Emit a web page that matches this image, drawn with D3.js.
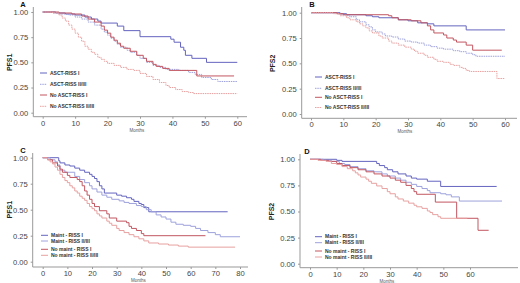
<!DOCTYPE html>
<html lang="en">
<head>
<meta charset="UTF-8">
<title>PFS by ASCT / maintenance and R-ISS</title>
<script src="https://cdn.jsdelivr.net/npm/d3@7/dist/d3.min.js"></script>
<style>
  body { margin: 0; background: #fff; }
  svg { display: block; font-family: "Liberation Sans", Arial, sans-serif; }
  .tick text { fill: #444; font-size: 7.6px; }
  .tick line { stroke: #999; }
</style>
</head>
<body>
<script>
// legend labels
const labelsAB = ['ASCT-RISS I', 'ASCT-RISS II/III', 'No ASCT-RISS I', 'No ASCT-RISS II/III'];
const labelsCD = ['Maint - RISS I', 'Maint - RISS II/III', 'No maint - RISS I', 'No maint - RISS II/III'];
const yTicks = [0, 0.25, 0.5, 0.75, 1];
const xTicks60 = [0, 10, 20, 30, 40, 50, 60];
const xTicks80 = [0, 10, 20, 30, 40, 50, 60, 70, 80];

// A: PFS1, ASCT vs no ASCT  [month, survival]
const aAsct1 = [[0,1],[4,0.99],[7,0.98],[10,0.97],[13,0.95],[15,0.93],[17,0.91],[18,0.89],[23,0.86],[25,0.815],[30,0.755],[39.5,0.73],[40.5,0.70],[42.5,0.65],[43.5,0.62],[44,0.57],[46,0.54],[50.5,0.50],[60,0.50]];
const aAsct23 = [[0,1],[3,0.99],[5,0.98],[8,0.97],[10,0.95],[12,0.93],[14,0.90],[16,0.87],[18,0.83],[19,0.80],[20,0.77],[21,0.74],[22,0.71],[23,0.68],[24,0.65],[26,0.62],[27,0.60],[29,0.57],[30,0.54],[32,0.50],[34,0.47],[36,0.45],[38,0.43],[42,0.42],[45,0.40],[47,0.38],[49,0.35],[52,0.33],[54,0.31],[60,0.31]];
const aNoAsct1 = [[0,1],[5,0.99],[9,0.98],[12,0.96],[14,0.93],[16,0.90],[18,0.86],[19,0.82],[20,0.79],[21,0.75],[22,0.72],[23,0.69],[24,0.66],[25,0.64],[27,0.61],[29,0.57],[31,0.54],[32,0.51],[34,0.48],[35,0.46],[37,0.44],[39,0.42],[47.5,0.365],[59,0.365]];
const aNoAsct23 = [[0,1],[3,0.99],[5,0.97],[6,0.94],[7,0.91],[8,0.87],[9,0.83],[10,0.79],[11,0.75],[12,0.71],[13,0.66],[14,0.63],[15,0.60],[16,0.58],[17,0.55],[18,0.53],[19,0.51],[20,0.49],[22,0.47],[24,0.45],[26,0.43],[28,0.42],[30,0.39],[32,0.36],[34,0.33],[36,0.30],[38,0.27],[39,0.25],[41,0.23],[43,0.21],[45,0.20],[46.5,0.19],[60,0.19]];

// B: PFS2, ASCT vs no ASCT
const bAsct1 = [[0,1],[9,0.99],[11,0.98],[17,0.97],[19,0.96],[21,0.95],[27,0.93],[30,0.92],[33,0.90],[36,0.89],[38,0.87],[48,0.83],[60,0.83]];
const bAsct23 = [[0,1],[8,0.99],[9,0.98],[11,0.97],[12,0.96],[14,0.93],[15,0.91],[17,0.88],[18,0.86],[19,0.83],[20,0.81],[22,0.79],[23,0.77],[25,0.76],[27,0.74],[29,0.72],[31,0.71],[33,0.70],[35,0.68],[37,0.665],[39,0.65],[41,0.64],[44,0.625],[46,0.615],[48,0.60],[50,0.585],[51,0.57],[60,0.57]];
const bNoAsct1 = [[0,1],[8,0.99],[10,0.98],[24,0.97],[25,0.95],[27,0.93],[31,0.92],[34,0.90],[36,0.87],[37,0.83],[38,0.80],[41,0.78],[42,0.75],[44,0.73],[45,0.71],[48,0.68],[50,0.63],[59,0.63]];
const bNoAsct23 = [[0,1],[7,0.99],[9,0.97],[11,0.95],[12,0.93],[14,0.91],[15,0.89],[16,0.87],[17,0.85],[18,0.82],[19,0.80],[21,0.77],[22,0.75],[24,0.72],[25,0.70],[27,0.68],[29,0.66],[31,0.64],[32,0.62],[33,0.60],[35,0.58],[36,0.56],[38,0.54],[39,0.52],[41,0.51],[43,0.49],[44,0.48],[46,0.46],[47,0.45],[48,0.43],[49,0.42],[57.5,0.35],[60,0.35]];

// C: PFS1, maintenance vs none
const cMaint1 = [[0,1],[6.5,0.97],[7,0.95],[9,0.93],[11,0.92],[13,0.90],[15,0.88],[17,0.86],[19,0.84],[20,0.82],[21,0.80],[22,0.77],[23,0.73],[24,0.70],[25,0.66],[30,0.64],[32,0.63],[34,0.615],[36,0.60],[37,0.58],[39,0.56],[40,0.55],[41,0.52],[43,0.48],[75,0.48]];
const cMaint23 = [[0,1],[3,0.98],[5,0.96],[6,0.93],[7,0.88],[9,0.86],[13,0.82],[15,0.79],[17,0.76],[19,0.73],[20,0.70],[22,0.67],[24,0.64],[26,0.62],[28,0.60],[31,0.585],[33,0.57],[35,0.56],[38,0.54],[40,0.53],[42,0.50],[44,0.48],[46,0.45],[48,0.43],[50,0.41],[52,0.38],[54,0.36],[57,0.35],[60,0.34],[62,0.32],[64,0.30],[67,0.28],[70,0.26],[72,0.24],[80,0.24]];
const cNoMaint1 = [[0,1],[2,0.98],[4,0.95],[6,0.92],[7,0.89],[8,0.86],[10,0.83],[11,0.81],[14,0.79],[15,0.77],[16,0.73],[17,0.68],[18,0.64],[19,0.60],[20,0.56],[21,0.53],[23,0.49],[26,0.46],[27,0.42],[30,0.39],[34,0.375],[35,0.34],[36,0.32],[38,0.30],[40,0.27],[41,0.25],[66,0.25]];
const cNoMaint23 = [[0,1],[2,0.98],[3,0.96],[4,0.94],[5,0.91],[6,0.88],[7,0.84],[8,0.81],[9,0.78],[10,0.76],[11,0.73],[12,0.71],[13,0.68],[14,0.66],[15,0.63],[16,0.61],[17,0.59],[18,0.56],[19,0.53],[20,0.51],[21,0.49],[22,0.46],[23,0.44],[24,0.42],[26,0.39],[27,0.37],[28,0.35],[30,0.32],[31,0.30],[33,0.28],[35,0.26],[37,0.24],[39,0.22],[41,0.20],[43,0.18],[47,0.17],[51,0.16],[55,0.15],[59,0.14],[78,0.14]];

// D: PFS2, maintenance vs none
const dMaint1 = [[0,1],[10,0.99],[12,0.98],[25,0.96],[26,0.94],[28,0.92],[29,0.90],[31,0.88],[33,0.86],[36,0.84],[38,0.82],[40,0.81],[44,0.79],[49,0.74],[70,0.74]];
const dMaint23 = [[0,1],[5,0.99],[8,0.98],[11,0.96],[13,0.95],[15,0.93],[18,0.91],[21,0.89],[24,0.88],[27,0.86],[29,0.84],[32,0.82],[34,0.80],[36,0.78],[38,0.76],[40,0.74],[42,0.72],[44,0.70],[45,0.68],[49,0.67],[51,0.66],[53,0.64],[56,0.60],[72,0.60]];
const dNoMaint1 = [[0,1],[4,0.99],[7,0.98],[10,0.96],[12,0.94],[15,0.92],[18,0.90],[21,0.88],[24,0.86],[27,0.84],[30,0.82],[32,0.80],[34,0.78],[36,0.75],[38,0.72],[39,0.69],[40,0.665],[47,0.59],[55,0.435],[63,0.32],[67,0.32]];
const dNoMaint23 = [[0,1],[3,0.99],[6,0.98],[8,0.96],[10,0.95],[12,0.93],[14,0.91],[16,0.89],[17,0.87],[18,0.85],[19,0.83],[21,0.81],[22,0.79],[23,0.77],[25,0.745],[27,0.72],[29,0.69],[30,0.67],[32,0.64],[33,0.62],[35,0.60],[37,0.58],[39,0.56],[40,0.545],[42,0.53],[44,0.505],[45,0.49],[46,0.47],[48,0.45],[49,0.435],[59,0.435]];

// series styles (same order as legend labels)
const colors = ['#6464c0', '#9ea2dc', '#c25660', '#e8a0a0'];
const width = 520, height = 283;

const svg = d3.select('body').append('svg')
  .attr('width', width)
  .attr('height', height);

// panel layout
const panels = [
  {letter: 'A', yLab: 'PFS1', series: [aAsct1, aAsct23, aNoAsct1, aNoAsct23], labels: labelsAB, xt: xTicks60,
   xr: [42.7, 237.3], yr: [112.7, 12], axX: 33.3, axY: 116.7, axR: 247, axT: 7, labX: 10, letX: 23, letY: 7,
   legX: 40, legY: [73, 84.3, 95, 106.3], dashed: true},
  {letter: 'B', yLab: 'PFS2', series: [bAsct1, bAsct23, bNoAsct1, bNoAsct23], labels: labelsAB, xt: xTicks60,
   xr: [311, 505], yr: [114, 12.7], axX: 301.7, axY: 118.3, axR: 517, axT: 7, labX: 273, letX: 312, letY: 7,
   legX: 315, legY: [77, 88.3, 97.3, 107.5], dashed: true},
  {letter: 'C', yLab: 'PFS1', series: [cMaint1, cMaint23, cNoMaint1, cNoMaint23], labels: labelsCD, xt: xTicks80,
   xr: [42.7, 240], yr: [261.7, 157.7], axX: 32.7, axY: 267, axR: 248, axT: 153, labX: 10, letX: 23, letY: 152.5,
   legX: 41, legY: [235.3, 241, 249.3, 255.3], dashed: false},
  {letter: 'D', yLab: 'PFS2', series: [dMaint1, dMaint23, dNoMaint1, dNoMaint23], labels: labelsCD, xt: xTicks60,
   xr: [310, 470], yr: [263.7, 159.3], axX: 300, axY: 267.7, axR: 518, axT: 154, labX: 272, letX: 307, letY: 154,
   legX: 315, legY: [236.7, 242.7, 251, 257], dashed: false}
];

panels.forEach(p => {
  const xmax = p.xt[p.xt.length - 1];
  const x = d3.scaleLinear().domain([0, xmax]).range(p.xr);
  const y = d3.scaleLinear().domain([0, 1]).range(p.yr);
  const g = svg.append('g');

  // axis lines
  g.append('line').attr('x1', p.axX).attr('x2', p.axX).attr('y1', p.axT).attr('y2', p.axY)
    .attr('stroke', '#999').attr('stroke-width', 1);
  g.append('line').attr('x1', p.axX).attr('x2', p.axR).attr('y1', p.axY).attr('y2', p.axY)
    .attr('stroke', '#999').attr('stroke-width', 1);

  // y axis
  const ya = g.append('g').attr('transform', `translate(${p.axX},0)`)
    .call(d3.axisLeft(y).tickValues(yTicks).tickFormat(d3.format('.2f')).tickSize(2).tickPadding(3));
  ya.select('.domain').remove();

  // x axis
  const xa = g.append('g').attr('transform', `translate(0,${p.axY})`)
    .call(d3.axisBottom(x).tickValues(p.xt).tickSize(2).tickPadding(1.5));
  xa.select('.domain').remove();

  // labels
  g.append('text').attr('transform', `translate(${p.labX},${(p.yr[0] + p.yr[1]) / 2}) rotate(-90)`)
    .attr('text-anchor', 'middle').attr('dy', '0.35em')
    .style('font-size', '7px').style('font-weight', 'bold').style('fill', '#222').text(p.yLab);
  g.append('text').attr('x', (p.xr[0] + p.xr[1]) / 2 - 3).attr('y', p.axY + 15)
    .attr('text-anchor', 'middle').style('font-size', '4.5px').style('fill', '#555').text('Months');
  g.append('text').attr('x', p.letX).attr('y', p.letY)
    .attr('text-anchor', 'middle').style('font-size', '7.5px').style('font-weight', 'bold').style('fill', '#111')
    .text(p.letter);

  // curves
  const line = d3.line().x(d => x(d[0])).y(d => y(d[1])).curve(d3.curveStepAfter);
  p.series.forEach((s, i) => {
    g.append('path').datum(s)
      .attr('d', line)
      .attr('fill', 'none')
      .attr('stroke', colors[i])
      .attr('stroke-width', 1)
      .attr('stroke-dasharray', (p.dashed && i % 2 === 1) ? '1.5,0.8' : null);
  });

  // legend
  p.labels.forEach((lab, i) => {
    g.append('line').attr('x1', p.legX).attr('x2', p.legX + 7)
      .attr('y1', p.legY[i]).attr('y2', p.legY[i])
      .attr('stroke', colors[i]).attr('stroke-width', 1)
      .attr('stroke-dasharray', (p.dashed && i % 2 === 1) ? '1.5,0.8' : null);
    g.append('text').attr('x', p.legX + 10).attr('y', p.legY[i]).attr('dy', '0.35em')
      .style('font-size', '5px').style('font-weight', 'bold').style('fill', '#333').text(lab);
  });
});
</script>
</body>
</html>
